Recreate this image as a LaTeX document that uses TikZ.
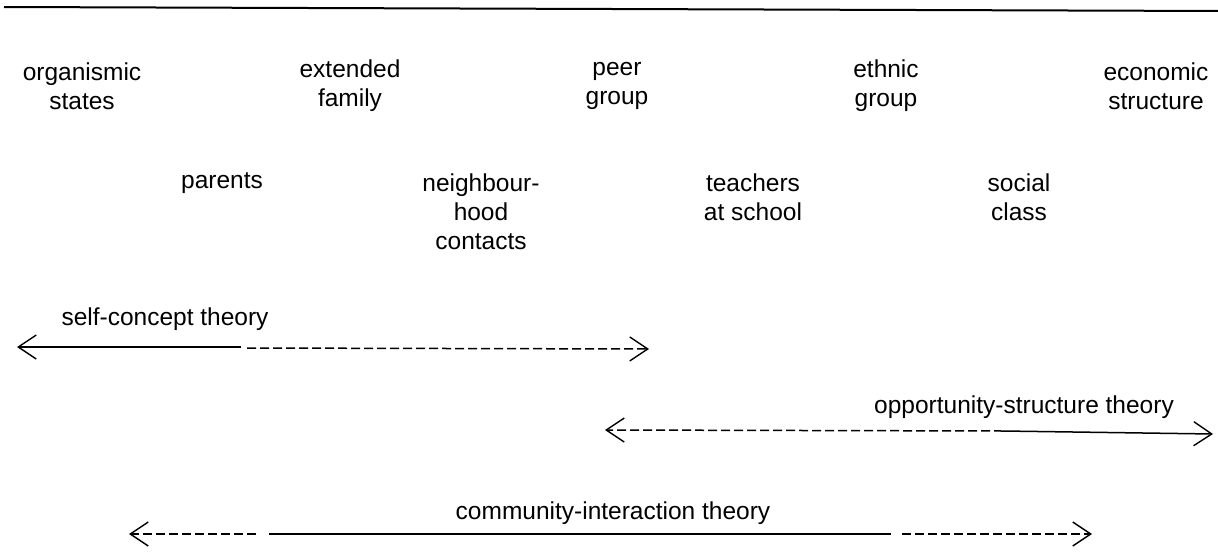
\documentclass[tikz,border=0pt]{standalone}
\usepackage{fontspec}
\setmainfont{Liberation Sans}
\usetikzlibrary{arrows.meta}
\begin{document}
\begin{tikzpicture}[x=1pt,y=-1pt,
  lbl/.style={align=center,inner sep=0pt,font=\fontsize{24.5}{29}\selectfont},
  solidseg/.style={line width=1.5pt},
  dashseg/.style={line width=1.5pt,dash pattern=on 9pt off 4pt},
  tip/.style={-{Straight Barb[length=18pt,width=24pt,line width=1.4pt]}}]
\useasboundingbox (0,0) rectangle (1218,554);

% rule across the top
\coordinate (ruleL) at (4,7);
\coordinate (ruleR) at (1220,11);
\draw[line width=2pt] (ruleL) -- (ruleR);

% first row of influences
\node[lbl] (org) at (82,86) {organismic\\states};
\node[lbl] (ext) at (350,86) {extended\\family};
\node[lbl] (peer) at (617,86) {peer\\group};
\node[lbl] (eth) at (886,86) {ethnic\\group};
\node[lbl] (eco) at (1156,86) {economic\\structure};

% second row of influences
\node[lbl] (par) at (222,183) {parents};
\node[lbl] (nbh) at (481,212) {neighbour-\\hood\\contacts};
\node[lbl] (tea) at (753,197) {teachers\\at school};
\node[lbl] (soc) at (1019,197) {social\\class};

% theory labels
\node[lbl] (sct) at (165,319) {self-concept theory};
\node[lbl] (ost) at (1024,407) {opportunity-structure theory};
\node[lbl] (cit) at (613,513) {community-interaction theory};

% self-concept theory
\coordinate (s1) at (17,347);
\coordinate (s2) at (241,347);
\coordinate (s3) at (247,348);
\coordinate (s4) at (649,349);
\draw[solidseg,tip] (s2) -- (s1);
\draw[dashseg,tip] (s3) -- (s4);

% opportunity-structure theory
\coordinate (o1) at (605,430);
\coordinate (o2) at (1003,431);
\coordinate (o3) at (1213,434);
\draw[dashseg,tip] (o2) -- (o1);
\draw[solidseg,tip] (o2) -- (o3);

% community-interaction theory
\coordinate (c1) at (129,534);
\coordinate (c2) at (256,534);
\coordinate (c3) at (269,534);
\coordinate (c4) at (419,534);
\coordinate (c5) at (807,534);
\coordinate (c6) at (891,534);
\coordinate (c7) at (902,534);
\coordinate (c8) at (1092,534);
\draw[dashseg,tip] (c2) -- (c1);
\draw[line width=1.8pt] (c3) -- (c4);
\draw[solidseg] (c4) -- (c5);
\draw[line width=1.8pt] (c5) -- (c6);
\draw[dashseg,tip] (c7) -- (c8);
\end{tikzpicture}
\end{document}
